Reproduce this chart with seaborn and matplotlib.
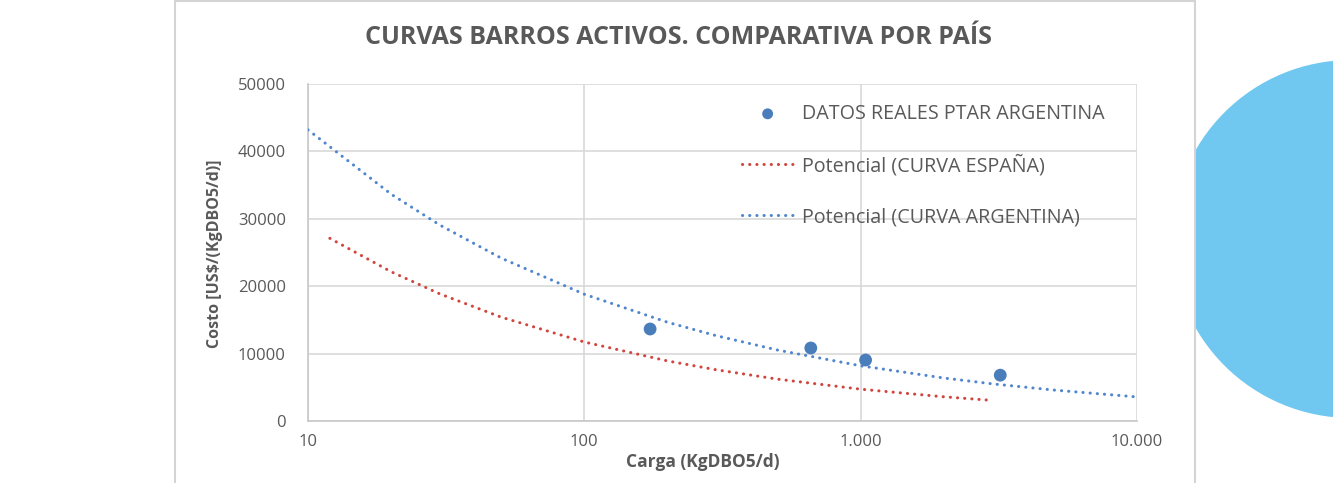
import numpy as np
import pandas as pd
import matplotlib
matplotlib.use("Agg")
import matplotlib.pyplot as plt
import matplotlib.patches as mpatches
from matplotlib.ticker import FixedLocator, FuncFormatter, NullLocator
import seaborn as sns

# ---- data ----
real_carga = [173, 660, 1042, 3200]
real_costo = [13650, 10830, 9050, 6800]

esp_carga = [12, 20, 30, 50, 100, 200, 300, 500, 1000, 2000, 2850]
esp_costo = [27100, 22140, 18860, 15410, 11720, 8910, 7600, 6210, 4720, 3590, 3120]

arg_carga = [10, 20, 30, 50, 100, 200, 300, 500, 1000, 2000, 3000, 5000, 10000]
arg_costo = [43200, 33650, 29070, 24170, 18810, 14650, 12660, 10530, 8190, 6380, 5510, 4590, 3570]

xticks = [10, 100, 1000, 10000]
yticks = [0, 10000, 20000, 30000, 40000, 50000]

title = "CURVAS BARROS ACTIVOS. COMPARATIVA POR PAÍS"
xlabel = "Carga (KgDBO5/d)"
ylabel = "Costo [US$/(KgDBO5/d)]"
lbl_real = "DATOS REALES PTAR ARGENTINA"
lbl_esp = "Potencial (CURVA ESPAÑA)"
lbl_arg = "Potencial (CURVA ARGENTINA)"

# ---- style ----
sns.set_theme(style="white")
plt.rcParams['font.family'] = ['Open Sans', 'DejaVu Sans']
GRAY = "#595959"
GRID = "#D9D9D9"
RED = "#D0463F"
BLUE_LINE = "#4F86CF"
BLUE_DOT = "#4A7EBB"

W, H = 1333, 483
fig = plt.figure(figsize=(W / 100, H / 100), dpi=100)
fig.patch.set_facecolor("white")

# decorative circle (behind panel)
cx, cy, r = 1351, 239, 179
circ = mpatches.Ellipse((cx / W, 1 - cy / H), 2 * r / W, 2 * r / H,
                        transform=fig.transFigure, facecolor="#70C8F1",
                        edgecolor="none", zorder=-3)
fig.add_artist(circ)
# chart panel
panel = mpatches.Rectangle((175 / W, -0.05), (1195 - 175) / W, 1.05 - 1.5 / H,
                           transform=fig.transFigure, facecolor="white",
                           edgecolor="#D4D4D4", lw=1.5, zorder=-2)
fig.add_artist(panel)

x0, x1, y0, y1 = 308, 1137, 84, 421
ax = fig.add_axes([x0 / W, 1 - y1 / H, (x1 - x0) / W, (y1 - y0) / H])
ax.set_facecolor("none")
ax.set_xscale("log")

df_esp = pd.DataFrame({"x": esp_carga, "y": esp_costo})
df_arg = pd.DataFrame({"x": arg_carga, "y": arg_costo})
df_real = pd.DataFrame({"x": real_carga, "y": real_costo})

dot = (0, (0.05, 2.3))
sns.scatterplot(data=df_real, x="x", y="y", ax=ax, color=BLUE_DOT, s=85,
                edgecolor="none", label=lbl_real, zorder=4)
sns.lineplot(data=df_esp, x="x", y="y", ax=ax, color=RED, lw=2.2,
             linestyle=dot, label=lbl_esp, zorder=3)
sns.lineplot(data=df_arg, x="x", y="y", ax=ax, color=BLUE_LINE, lw=2.2,
             linestyle=dot, label=lbl_arg, zorder=3)
for ln in ax.lines:
    ln.set_dash_capstyle("round")

ax.set_xlim(10, 10000)
ax.set_ylim(0, 50000)
ax.xaxis.set_major_locator(FixedLocator(xticks))
ax.xaxis.set_minor_locator(NullLocator())
ax.xaxis.set_major_formatter(FuncFormatter(lambda v, p: f"{int(round(v)):,}".replace(",", ".")))
ax.yaxis.set_major_locator(FixedLocator(yticks))
ax.yaxis.set_major_formatter(FuncFormatter(lambda v, p: f"{int(v)}"))

ax.grid(True, color=GRID, lw=1.2)
ax.set_axisbelow(True)
for s in ["top", "right"]:
    ax.spines[s].set_visible(False)
for s in ["left", "bottom"]:
    ax.spines[s].set_color("#C8C8C8")
    ax.spines[s].set_linewidth(1.2)
ax.tick_params(axis="both", length=0, colors=GRAY, labelsize=12)
ax.tick_params(axis="x", pad=9)
ax.tick_params(axis="y", pad=16)
ax.set_xlabel("")
ax.set_ylabel("")

fig.text(703 / W, 1 - 462 / H, xlabel, ha="center", va="center",
         fontsize=12.5, fontweight="bold", color=GRAY)
fig.text(215 / W, 1 - 254 / H, ylabel, ha="center", va="center", rotation=90,
         fontsize=11.5, fontweight="bold", color=GRAY)
fig.text(678 / W, 1 - 37 / H, title, ha="center", va="center",
         fontsize=18, fontweight="bold", color=GRAY)

leg = ax.legend(loc="upper left",
                bbox_to_anchor=((742 - x0) / (x1 - x0), (y1 - 104) / (y1 - y0)),
                frameon=False, fontsize=14.2, labelspacing=1.56, borderpad=0,
                borderaxespad=0, handlelength=2.6, handletextpad=0.46,
                markerscale=0.85)
for t in leg.get_texts():
    t.set_color(GRAY)

fig.savefig("out.png", dpi=100)
